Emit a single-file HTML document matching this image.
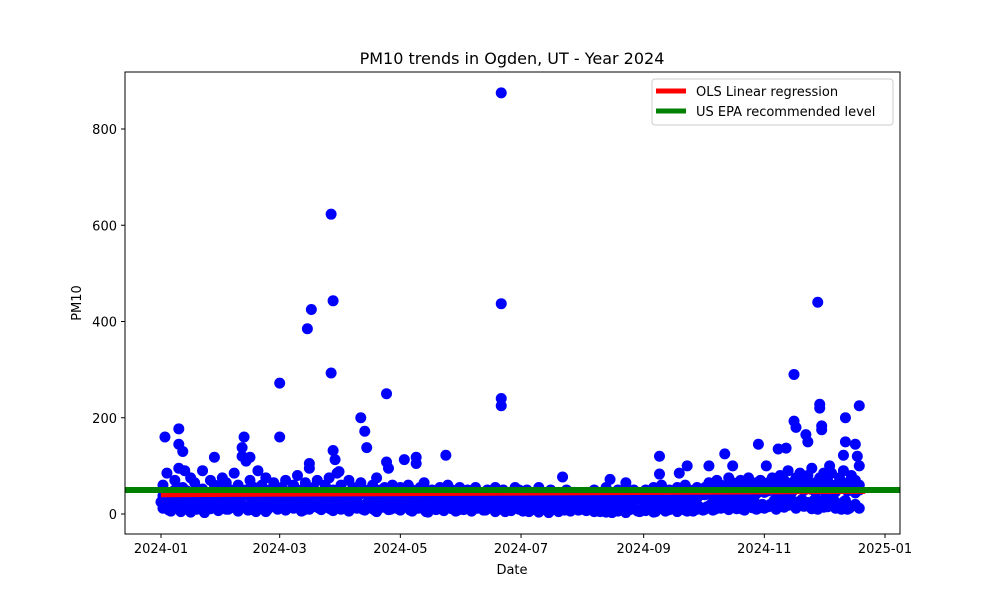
<!DOCTYPE html>
<html><head><meta charset="utf-8">
<style>
body{margin:0;background:#fff;font-family:"Liberation Sans","DejaVu Sans",sans-serif;}
svg text{font-family:"DejaVu Sans","Liberation Sans",sans-serif;}
</style></head>
<body>
<svg id="chart" width="1000" height="600" viewBox="0 0 1000 600" xmlns="http://www.w3.org/2000/svg">
<rect width="1000" height="600" fill="#fff"/>
<text x="512" y="64" text-anchor="middle" font-size="16">PM10 trends in Ogden, UT - Year 2024</text>
<defs><clipPath id="clip"><rect x="125" y="72" width="775" height="462"/></clipPath></defs>
<g id="marks" clip-path="url(#clip)"></g>
<g id="lines" clip-path="url(#clip)"></g>
<rect x="125" y="72" width="775" height="462" fill="none" stroke="#000" stroke-width="1"/>
<g id="axes"></g>
<text x="512" y="574" text-anchor="middle" font-size="13">Date</text>
<text transform="translate(81,303) rotate(-90)" text-anchor="middle" font-size="13">PM10</text>
<g>
<rect x="652" y="79" width="241" height="46" fill="#fff" stroke="#ccc" rx="3"/>
<line x1="656" y1="91" x2="686" y2="91" stroke="red" stroke-width="5"/>
<text x="696" y="96" font-size="13">OLS Linear regression</text>
<line x1="656" y1="111" x2="686" y2="111" stroke="green" stroke-width="5"/>
<text x="696" y="116" font-size="13">US EPA recommended level</text>
</g>
</svg>
<script>
const lowVals=[25,30,8,15,22,5,12,28,35,10,18,3,20,14,30,25,
32,10,22,28,15,40,8,20,5,12,25,10,18,30,22,
12,20,28,15,22,8,30,18,25,12,20,35,10,22,15,
25,18,12,30,15,10,22,28,8,20,14,25,10,18,12,
22,15,8,25,12,18,5,20,14,28,10,18,22,12,8,25,
15,10,22,12,18,8,25,15,20,10,5,18,12,22,15,
10,5,15,8,20,12,3,18,10,25,8,15,12,20,10,14,
12,8,18,5,15,10,3,20,12,8,15,22,10,5,18,
10,15,5,20,12,8,25,14,10,18,6,22,12,15,8,
15,20,10,25,18,12,28,15,22,10,30,18,25,12,20,15,
20,28,15,30,22,35,18,25,30,20,15,28,10,25,35,
20,30,15,10,28,12];
const midVals=[60,85,45,70,95,55,40,75,65,50,90,45,70,60,55,
75,65,50,85,60,45,110,70,55,90,60,75,50,65,45,
55,70,45,60,80,50,65,95,55,70,45,60,75,50,85,
60,45,70,55,40,65,50,45,60,75,50,55,45,60,50,
55,45,60,50,40,55,65,45,50,40,55,45,60,50,40,55,
45,50,40,55,45,35,50,40,55,45,50,40,45,35,50,
40,50,35,45,55,40,35,50,40,45,35,50,40,45,35,40,
45,35,50,40,45,55,35,40,50,45,35,40,50,45,40,
50,40,55,45,60,45,50,40,55,45,60,50,45,55,40,
55,65,50,70,60,55,75,65,50,70,60,75,55,65,70,60,
65,75,60,80,70,90,65,75,85,70,80,95,65,75,85,
70,85,60,75,90,65,80,70,60];
const fillA=[38,45,32,50,40,35,48,30,42,36,52,33,44,39,47,
35,41,48,33,45,38,50,36,43,31,46,40,34,49,37,
42,36,47,31,44,39,52,35,41,46,33,48,38,43,36,
40,34,45,38,30,42,47,35,39,44,32,41,37,45,33,
36,42,30,39,45,34,40,31,43,37,33,41,38,30,44,36,
32,40,35,29,38,42,31,36,33,40,28,37,34,30,39,
31,36,28,35,40,30,34,27,38,32,29,36,33,28,35,31,
30,35,28,38,32,27,36,30,33,29,35,31,28,34,30,
33,38,30,36,42,32,37,34,40,31,45,35,39,33,41,
40,46,37,50,43,38,52,41,47,39,55,44,48,42,50,45,
48,55,44,58,50,60,46,53,57,49,62,51,45,56,52,
50,58,46,54,60,48,52,44,50];
const fillB=[12,20,6,15,25,9,18,4,22,14,8,19,11,16,7,
18,10,24,13,6,20,15,9,22,12,17,5,14,21,10,
15,8,20,12,25,6,16,10,22,14,9,18,12,7,20,
10,16,6,20,12,15,8,18,11,5,14,20,9,16,12,
8,14,20,6,12,17,10,4,15,9,13,7,18,11,6,14,
9,14,6,12,17,8,11,15,5,13,9,16,7,12,10,
6,12,8,15,4,10,13,7,11,5,14,9,6,12,8,10,
7,11,5,13,9,4,12,8,6,10,3,9,12,6,8,
7,12,4,10,15,6,9,13,5,11,8,14,6,10,12,
10,16,8,18,12,14,9,20,11,15,8,17,13,10,19,12,
15,22,10,25,14,18,28,12,20,16,24,11,18,26,14,
15,22,12,18,25,10,16,20,12];
const highDays=[2,9,9,11,12,27,42,41,41,45,60,60,74,76,75,86,87,86,87,88,90,101,103,104,114,114,115,123,129,129,144,172,172,172,172,179,203,227,235,252,252,262,266,277,285,289,302,306,312,316,320,320,321,326,327,332,333,333,334,334,338,346,346,345,351,353,352,353];
const highVals=[160,177,145,130,90,118,160,138,120,118,272,160,385,425,105,623,443,293,132,113,88,200,172,138,250,108,95,113,118,105,122,875,437,240,225,55,77,72,65,120,83,85,100,100,125,100,145,100,135,137,290,193,180,165,150,440,228,220,183,175,100,200,150,122,145,225,120,100];
const xTicks=["2024-01","2024-03","2024-05","2024-07","2024-09","2024-11","2025-01"];
const xTickDays=[0,60,121,182,244,305,366];
const yTicks=[0,200,400,600,800];
const regStart=40, regEnd=47, epaLevel=50, lastDay=356;

const X=d=>161+d*(885-161)/366;
const Y=v=>514-v*(96.25/200);
const NS="http://www.w3.org/2000/svg";
const marks=document.getElementById('marks');
function dot(d,v,name){
  const c=document.createElementNS(NS,'circle');
  c.setAttribute('cx',X(d));c.setAttribute('cy',Y(v));c.setAttribute('r',5.5);c.setAttribute('fill','#0000ff');
  
  
  marks.appendChild(c);
}
lowVals.forEach((v,i)=>dot(i*2,v,'pm10-point'));
midVals.forEach((v,i)=>dot(i*2+1,v,'pm10-point'));
fillA.forEach((v,i)=>dot(i*2+1,v,'pm10-point'));
fillB.forEach((v,i)=>dot(i*2+1,v,'pm10-point'));
highDays.forEach((d,i)=>dot(d,highVals[i],'pm10-high-point'));
const lines=document.getElementById('lines');
const reg=document.createElementNS(NS,'line');
reg.setAttribute('x1',X(0));reg.setAttribute('x2',X(lastDay));
reg.setAttribute('y1',Y(regStart));reg.setAttribute('y2',Y(regEnd));
reg.setAttribute('stroke','red');reg.setAttribute('stroke-width',5);


lines.appendChild(reg);
const epa=document.createElementNS(NS,'line');
epa.setAttribute('x1',125);epa.setAttribute('x2',900);
epa.setAttribute('y1',Y(epaLevel));epa.setAttribute('y2',Y(epaLevel));
epa.setAttribute('stroke','green');epa.setAttribute('stroke-width',6);


lines.appendChild(epa);
const axes=document.getElementById('axes');
xTicks.forEach((t,i)=>{
  const x=X(xTickDays[i]);
  const l=document.createElementNS(NS,'line');
  l.setAttribute('x1',x);l.setAttribute('x2',x);l.setAttribute('y1',534);l.setAttribute('y2',538);l.setAttribute('stroke','#000');
  
  
  axes.appendChild(l);
  const tx=document.createElementNS(NS,'text');
  tx.setAttribute('x',x);tx.setAttribute('y',553);tx.setAttribute('text-anchor','middle');tx.setAttribute('font-size','13');
  tx.textContent=t;
  
  
  axes.appendChild(tx);
});
yTicks.forEach(v=>{
  const y=Y(v);
  const l=document.createElementNS(NS,'line');
  l.setAttribute('x1',121);l.setAttribute('x2',125);l.setAttribute('y1',y);l.setAttribute('y2',y);l.setAttribute('stroke','#000');
  
  
  axes.appendChild(l);
  const tx=document.createElementNS(NS,'text');
  tx.setAttribute('x',117);tx.setAttribute('y',y+5);tx.setAttribute('text-anchor','end');tx.setAttribute('font-size','13');
  tx.textContent=v;
  
  
  axes.appendChild(tx);
});
</script>
</body></html>
